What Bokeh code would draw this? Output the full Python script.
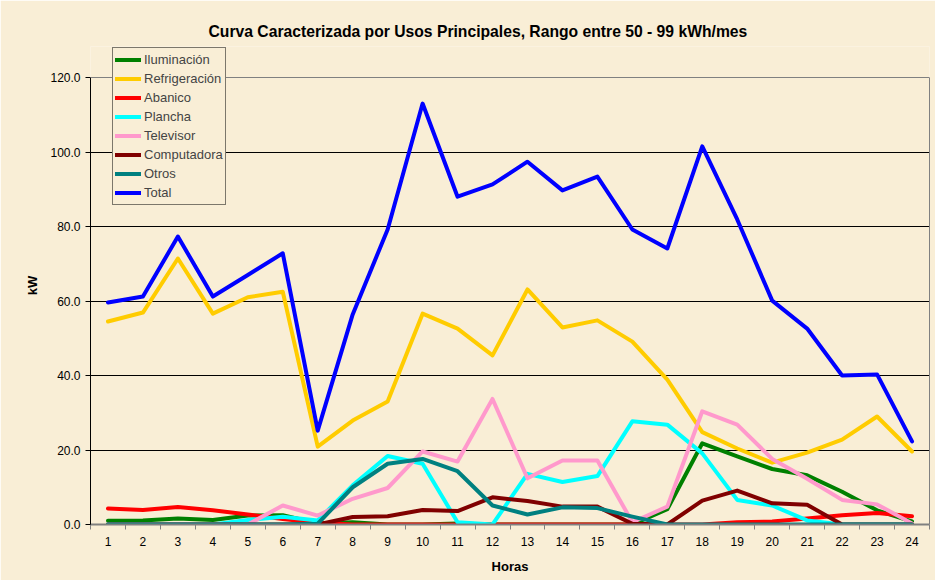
from bokeh.plotting import figure
from bokeh.models import (FixedTicker, NumeralTickFormatter, Legend, LegendItem, ColumnDataSource,
                          LinearAxis, Span, Title)
from bokeh.embed import file_html
from bokeh.resources import INLINE

horas = list(range(1, 25))
iluminacion = [1.0, 1.1, 1.6, 1.2, 2.4, 2.5, 0.3, 0.6, 0.0, 0.0, 0.3, 0.0, 0.0, 0.0, 0.0, 0.0, 4.1, 21.8, 18.3, 14.9, 13.2, 8.8, 3.8, 0.8]
refrigeracion = [54.5, 56.9, 71.4, 56.6, 61.0, 62.5, 20.9, 27.9, 33.0, 56.6, 52.6, 45.4, 63.1, 52.9, 54.8, 49.1, 38.9, 24.8, 20.4, 16.6, 19.3, 22.8, 29.0, 19.6]
abanico = [4.3, 3.9, 4.7, 3.8, 2.7, 1.5, 0.5, 0.0, 0.0, 0.0, 0.0, 0.0, 0.0, 0.0, 0.0, 0.0, 0.0, 0.0, 0.6, 0.8, 1.6, 2.5, 3.1, 2.2]
plancha = [0.0, 0.0, 0.0, 0.0, 1.2, 2.1, 1.1, 10.5, 18.4, 16.3, 0.6, 0.0, 13.6, 11.4, 13.0, 27.7, 26.8, 19.1, 6.6, 5.1, 1.1, 0.0, 0.0, 0.0]
televisor = [0.0, 0.0, 0.0, 0.0, 0.0, 5.1, 2.4, 6.9, 9.8, 19.6, 16.9, 33.7, 12.4, 17.2, 17.2, 0.6, 4.8, 30.4, 26.8, 17.6, 12.3, 6.6, 5.4, 0.3]
computadora = [0.0, 0.0, 0.0, 0.0, 0.0, 0.0, 0.0, 2.0, 2.2, 3.9, 3.6, 7.3, 6.3, 4.8, 4.8, 0.2, 0.0, 6.4, 9.1, 5.7, 5.3, 0.0, 0.0, 0.0]
otros = [0.0, 0.0, 0.0, 0.0, 0.0, 0.0, 0.2, 10.0, 16.3, 17.6, 14.3, 5.1, 2.7, 4.6, 4.4, 2.1, 0.0, 0.0, 0.0, 0.0, 0.0, 0.0, 0.0, 0.0]
total = [59.6, 61.2, 77.3, 61.2, 67.0, 72.8, 25.2, 56.4, 79.2, 113.0, 88.0, 91.3, 97.4, 89.7, 93.4, 79.2, 74.1, 101.5, 81.9, 60.1, 52.6, 40.0, 40.3, 22.3]

y_ticks = [0, 20, 40, 60, 80, 100, 120]
y_max = 120

series = [
    ("Iluminación", iluminacion, "#008000"),
    ("Refrigeración", refrigeracion, "#FFCC00"),
    ("Abanico", abanico, "#FF0000"),
    ("Plancha", plancha, "#00FFFF"),
    ("Televisor", televisor, "#FF99CC"),
    ("Computadora", computadora, "#800000"),
    ("Otros", otros, "#008080"),
    ("Total", total, "#0000FF"),
]

BG = "#F9EED6"
FONT = "Liberation Sans"

W, H = 935, 580
B_LEFT, B_RIGHT, B_TOP, B_BOTTOM = 90, 6, 46, 56
PLOT_TOP_PX = 77          # pixel row of the y=120 border
frame_h = H - B_TOP - B_BOTTOM
y_end = y_max * frame_h / (H - B_BOTTOM - PLOT_TOP_PX)

p = figure(width=W, height=H, x_range=(0.5, 24.5), y_range=(0, y_end),
           output_backend="svg", toolbar_location=None,
           background_fill_color=BG, border_fill_color=BG,
           min_border_left=B_LEFT, min_border_right=B_RIGHT,
           min_border_top=B_TOP, min_border_bottom=B_BOTTOM)
p.outline_line_color = None

p.title = Title(text="Curva Caracterizada por Usos Principales, Rango entre 50 - 99 kWh/mes",
                text_font=FONT, text_font_size="15.7px", text_font_style="bold",
                text_color="black", align="left", offset=118, standoff=13)

items = []
for name, vals, color in series:
    src = ColumnDataSource(dict(x=horas, y=vals))
    r = p.line("x", "y", source=src, line_color=color, line_width=4, line_join="round", line_cap="round")
    items.append(LegendItem(label=name, renderers=[r]))

# x axis
p.xaxis.ticker = FixedTicker(ticks=horas, minor_ticks=[h - 0.5 for h in horas] + [24.5])
p.xaxis.major_tick_out = 0
p.xaxis.major_tick_in = 0
p.xaxis.minor_tick_out = 5
p.xaxis.minor_tick_in = 0
p.xaxis.minor_tick_line_color = "#808080"
p.xaxis.axis_line_color = "#808080"
p.xaxis.axis_line_width = 2
p.xaxis.major_label_standoff = 7
p.xaxis.axis_label = "Horas"
p.xaxis.axis_label_standoff = 10

# y axis
p.yaxis.ticker = FixedTicker(ticks=y_ticks)
p.yaxis.bounds = (0, y_max)
p.yaxis.formatter = NumeralTickFormatter(format="0.0")
p.yaxis.major_tick_out = 5
p.yaxis.major_tick_in = 0
p.yaxis.minor_tick_line_color = None
p.yaxis.axis_line_color = "black"
p.yaxis.major_tick_line_color = "black"
p.yaxis.major_label_standoff = 5
p.yaxis.axis_label = "kW"
p.yaxis.axis_label_standoff = 7

for ax in (p.xaxis[0], p.yaxis[0]):
    ax.major_label_text_font = FONT
    ax.major_label_text_font_size = "12px"
    ax.major_label_text_color = "black"
    ax.axis_label_text_font = FONT
    ax.axis_label_text_font_size = "13px"
    ax.axis_label_text_font_style = "bold"
    ax.axis_label_text_color = "black"

# right border of plot area (0..120 only)
rax = LinearAxis(ticker=FixedTicker(ticks=[]), bounds=(0, y_max),
                 axis_line_color="#808080", axis_line_width=1,
                 major_tick_line_color=None, minor_tick_line_color=None,
                 major_label_text_color=None)
p.add_layout(rax, "right")

p.xgrid.grid_line_color = None
p.ygrid.ticker = FixedTicker(ticks=[t for t in y_ticks if 0 < t < y_max])
p.ygrid.grid_line_color = "black"
p.ygrid.grid_line_width = 1

# top border of plot area
p.add_layout(Span(location=y_max, dimension="width", line_color="#808080", line_width=1))

legend = Legend(items=items, location=(22, 319), border_line_color="black", border_line_width=1,
                background_fill_color=BG, background_fill_alpha=1.0,
                label_text_font=FONT, label_text_font_size="13px",
                glyph_width=26, glyph_height=19, label_height=19, label_standoff=3,
                padding=2, spacing=0, margin=0)
p.add_layout(legend, "center")

open("out.html", "w").write(file_html(p, INLINE))
